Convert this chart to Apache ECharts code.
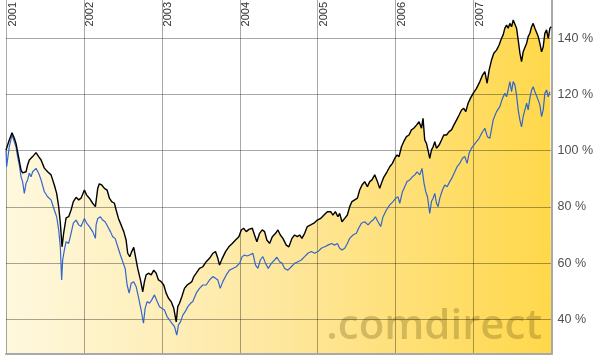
<!DOCTYPE html>
<html><head><meta charset="utf-8">
<script src="https://cdn.jsdelivr.net/npm/echarts@6/dist/echarts.min.js"></script>
<style>html,body{margin:0;padding:0;background:#fff}#c{width:596px;height:361px}</style>
</head><body><div id="c"></div>
<script>
// Year labels shown at the top
const yearTicks = [2001, 2002, 2003, 2004, 2005, 2006, 2007];
// Right-axis tick labels (percent)
const pctTicks = [40, 60, 80, 100, 120, 140];

// Fund (black line), time as decimal years, value in %
const fundT = [
2001.000,2001.021,2001.042,2001.077,2001.107,2001.128,2001.149,2001.171,2001.193,2001.213,
2001.235,2001.257,2001.277,2001.299,2001.321,2001.342,2001.385,2001.419,2001.450,2001.492,
2001.534,2001.578,2001.620,2001.650,2001.676,2001.697,2001.719,2001.740,2001.771,2001.804,
2001.835,2001.864,2001.899,2001.933,2001.963,2002.006,2002.035,2002.070,2002.112,2002.147,
2002.177,2002.198,2002.228,2002.263,2002.297,2002.327,2002.356,2002.391,2002.413,2002.443,
2002.477,2002.511,2002.541,2002.562,2002.588,2002.613,2002.639,2002.670,2002.690,2002.725,
2002.755,2002.776,2002.798,2002.828,2002.863,2002.896,2002.927,2002.956,2002.991,2003.024,
2003.055,2003.085,2003.119,2003.153,2003.184,2003.204,2003.226,2003.256,2003.290,2003.325,
2003.355,2003.384,2003.410,2003.441,2003.483,2003.525,2003.569,2003.611,2003.654,2003.688,
2003.718,2003.740,2003.775,2003.817,2003.859,2003.903,2003.945,2003.988,2004.019,2004.048,
2004.083,2004.116,2004.160,2004.189,2004.219,2004.254,2004.288,2004.318,2004.347,2004.382,
2004.417,2004.459,2004.489,2004.520,2004.553,2004.596,2004.630,2004.669,2004.703,2004.738,
2004.768,2004.797,2004.832,2004.866,2004.909,2004.951,2004.995,2005.037,2005.080,2005.123,
2005.166,2005.195,2005.226,2005.259,2005.281,2005.311,2005.346,2005.380,2005.410,2005.439,
2005.474,2005.509,2005.538,2005.568,2005.602,2005.637,2005.667,2005.696,2005.731,2005.766,
2005.795,2005.825,2005.850,2005.889,2005.924,2005.958,2005.988,2006.017,2006.043,2006.074,
2006.103,2006.138,2006.171,2006.202,2006.232,2006.267,2006.300,2006.331,2006.351,2006.373,
2006.395,2006.415,2006.437,2006.459,2006.480,2006.502,2006.523,2006.557,2006.588,2006.617,
2006.652,2006.685,2006.716,2006.746,2006.780,2006.814,2006.845,2006.874,2006.900,2006.929,
2006.960,2006.994,2007.037,2007.080,2007.114,2007.144,2007.173,2007.199,2007.230,2007.259,
2007.294,2007.327,2007.358,2007.379,2007.401,2007.423,2007.443,2007.465,2007.487,2007.508,
2007.530,2007.551,2007.572,2007.594,2007.615,2007.636,2007.658,2007.680,2007.700,2007.722,
2007.744,2007.764,2007.786,2007.808,2007.829,2007.850,2007.872,2007.893,2007.914,2007.936,
2007.957,2007.979,2007.996];
const fundV = [
100.2,102.0,103.8,106.4,104.4,102.6,99.6,99.2,93.1,92.1,
91.4,92.5,94.9,96.7,97.0,97.9,99.3,97.9,96.7,93.8,
92.5,91.4,87.8,84.8,80.1,74.3,65.8,70.7,76.1,76.5,
78.9,81.9,83.4,82.5,83.1,86.0,84.2,83.1,81.3,80.1,
86.6,88.2,87.8,86.6,86.0,83.1,81.9,81.3,78.9,75.9,
73.6,71.2,68.2,63.5,62.3,64.1,65.6,61.1,58.1,54.0,
49.8,53.4,55.8,56.4,55.8,57.5,56.4,54.0,53.4,52.2,
49.3,47.5,46.3,43.9,39.1,44.5,45.7,48.0,51.0,52.2,
52.8,53.4,55.2,56.4,58.1,58.7,60.5,61.7,63.5,64.1,
61.7,59.3,61.7,64.1,65.8,67.0,68.2,69.4,71.8,72.4,
71.2,72.0,72.4,70.0,67.6,70.6,71.8,71.2,68.2,67.0,
69.4,70.6,71.8,70.0,68.8,66.4,65.8,68.8,70.0,69.4,
70.0,68.8,70.6,73.0,73.6,74.2,75.3,75.9,77.1,78.3,
78.3,77.1,78.3,76.5,77.7,74.7,75.9,77.1,80.1,81.9,
82.5,83.1,86.0,87.8,89.0,87.2,89.0,89.6,91.4,89.0,
86.6,89.0,90.7,92.5,94.3,95.5,97.3,98.5,97.9,101.4,
103.2,105.0,105.6,107.4,108.0,109.1,110.3,108.0,111.5,103.8,
102.6,100.2,97.3,100.2,101.4,103.2,100.9,102.0,103.8,105.6,
105.6,106.8,107.4,109.1,110.9,112.7,114.5,115.1,113.9,116.9,
118.7,120.4,122.2,124.6,126.9,128.1,124.0,128.7,132.3,134.7,
135.8,137.6,140.0,141.2,143.6,144.7,143.6,145.3,144.1,146.5,
147.1,143.6,139.4,134.7,131.7,135.2,134.7,138.2,140.6,141.8,
144.1,145.3,143.6,144.1,140.6,138.2,135.2,137.0,141.8,143.0,
140.0,143.6,144.1];

// Benchmark (blue line)
const benchT = [
2001.000,2001.008,2001.042,2001.077,2001.107,2001.128,2001.149,2001.171,2001.193,2001.213,
2001.235,2001.257,2001.277,2001.299,2001.321,2001.342,2001.385,2001.419,2001.450,2001.492,
2001.534,2001.578,2001.620,2001.650,2001.676,2001.697,2001.714,2001.727,2001.749,2001.771,
2001.804,2001.835,2001.864,2001.899,2001.933,2001.963,2002.006,2002.035,2002.070,2002.112,
2002.147,2002.156,2002.177,2002.211,2002.241,2002.272,2002.305,2002.340,2002.369,2002.400,
2002.434,2002.468,2002.498,2002.529,2002.554,2002.580,2002.606,2002.639,2002.670,2002.699,
2002.734,2002.764,2002.785,2002.811,2002.841,2002.870,2002.905,2002.940,2002.969,2002.999,
2003.033,2003.068,2003.098,2003.127,2003.162,2003.191,2003.213,2003.239,2003.269,2003.299,
2003.333,2003.368,2003.397,2003.441,2003.483,2003.525,2003.569,2003.611,2003.654,2003.688,
2003.718,2003.749,2003.782,2003.826,2003.868,2003.911,2003.954,2003.997,2004.031,2004.061,
2004.091,2004.125,2004.168,2004.202,2004.232,2004.263,2004.296,2004.331,2004.365,2004.404,
2004.446,2004.476,2004.511,2004.545,2004.575,2004.617,2004.661,2004.703,2004.746,2004.789,
2004.832,2004.874,2004.918,2004.960,2005.003,2005.046,2005.089,2005.131,2005.175,2005.217,
2005.252,2005.281,2005.311,2005.346,2005.380,2005.410,2005.452,2005.496,2005.525,2005.560,
2005.602,2005.645,2005.680,2005.709,2005.740,2005.773,2005.808,2005.838,2005.881,2005.924,
2005.966,2006.001,2006.030,2006.052,2006.087,2006.116,2006.146,2006.180,2006.215,2006.245,
2006.274,2006.309,2006.338,2006.364,2006.386,2006.408,2006.437,2006.459,2006.480,2006.502,
2006.523,2006.544,2006.566,2006.600,2006.630,2006.660,2006.694,2006.729,2006.759,2006.788,
2006.823,2006.857,2006.887,2006.917,2006.942,2006.973,2007.003,2007.037,2007.071,2007.105,
2007.144,2007.176,2007.208,2007.251,2007.294,2007.336,2007.371,2007.401,2007.423,2007.443,
2007.465,2007.487,2007.508,2007.530,2007.551,2007.572,2007.594,2007.615,2007.636,2007.658,
2007.680,2007.700,2007.722,2007.744,2007.764,2007.786,2007.808,2007.829,2007.850,2007.872,
2007.893,2007.914,2007.936,2007.957,2007.979];
const benchV = [
100.2,94.3,101.4,105.6,103.2,101.4,97.9,94.9,90.7,89.0,
84.8,88.4,89.6,92.0,90.7,92.5,93.7,92.0,89.6,85.4,
83.6,82.5,78.9,76.5,71.8,65.8,54.0,61.1,64.7,67.6,
67.0,70.6,74.2,75.3,73.6,73.0,75.9,74.2,73.0,71.2,
68.8,73.6,75.9,76.5,75.3,74.7,73.0,71.2,69.4,68.8,
65.8,62.9,60.5,58.1,52.2,49.3,52.8,53.4,51.6,48.0,
43.3,38.6,43.9,46.3,45.7,46.9,48.7,46.3,44.5,43.9,
43.3,40.9,39.8,38.6,37.4,34.4,38.0,39.1,41.5,42.7,
44.5,45.7,46.3,49.3,51.0,52.2,52.2,54.0,55.2,54.6,
54.0,51.0,53.4,55.8,57.5,58.1,58.7,59.9,62.3,62.9,
62.5,62.9,63.5,59.3,58.1,61.1,62.3,59.9,58.1,59.9,
61.1,62.1,60.5,59.9,58.1,57.5,58.7,59.9,60.5,61.1,
62.3,63.5,64.1,63.5,64.1,65.3,65.8,66.4,67.0,66.4,
67.0,65.3,64.7,65.3,67.0,68.8,70.0,70.6,72.4,74.2,
74.7,73.6,74.7,75.3,76.5,74.7,73.0,76.5,78.9,80.7,
81.9,83.1,83.6,81.3,85.4,87.2,89.0,89.6,90.7,91.4,
92.5,91.4,93.7,88.4,85.4,83.6,77.7,81.9,83.1,84.8,
81.3,80.1,83.1,86.0,87.8,87.2,89.0,90.7,92.5,94.3,
95.5,97.3,97.9,95.5,99.1,100.9,102.0,103.2,104.4,106.3,
108.0,105.0,104.4,110.9,113.9,115.7,118.7,120.4,119.2,121.6,
124.6,121.0,124.6,123.4,119.8,114.5,110.9,108.5,112.1,114.5,
116.9,114.5,118.7,121.6,122.8,121.0,121.6,118.0,116.3,112.1,
114.5,120.4,121.6,119.2,121.0];

const fundData = fundT.map((t, i) => [t, fundV[i]]);
const benchData = benchT.map((t, i) => [t, benchV[i]]);

const FONT = '"Liberation Sans", Arial, sans-serif';
const GRIDC = 'rgba(0,0,0,0.34)';
const BORDER = '#a9a9a9';

const chart = echarts.init(document.getElementById('c'), null, {renderer: 'canvas'});
const watermark = {
  type: 'text', right: 54, bottom: 13, z: 2,
  style: {text: '.comdirect', font: '600 42px "Open Sans", sans-serif', fill: 'rgba(80,60,0,0.25)'}
};
chart.setOption({
  animation: false,
  backgroundColor: '#ffffff',
  grid: {left: 6, right: 44, top: 0, bottom: 7, containLabel: false},
  xAxis: {
    type: 'value', min: 2001, max: 2008, interval: 1, position: 'bottom', z: 2,
    axisLine: {show: true, onZero: false, lineStyle: {color: BORDER, width: 2}},
    axisTick: {show: false}, axisLabel: {show: false},
    splitLine: {show: true, showMaxLine: false, lineStyle: {color: GRIDC, width: 1}}
  },
  yAxis: {
    type: 'value', position: 'right', min: 27.65, max: 153.63, splitNumber: 6, z: 2,
    axisLine: {show: true, lineStyle: {color: BORDER, width: 2}},
    axisTick: {show: false},
    axisLabel: {
      margin: 6, color: '#505050', fontSize: 12.5, fontFamily: FONT,
      showMinLabel: false, showMaxLabel: false,
      formatter: v => pctTicks.includes(Math.round(v * 1000) / 1000) ? v + ' %' : ''
    },
    splitLine: {show: true, showMinLine: false, showMaxLine: false, lineStyle: {color: GRIDC, width: 1}}
  },
  series: [{
    type: 'line', data: fundData, z: 1, symbol: 'none', silent: true,
    lineStyle: {opacity: 0, width: 0},
    areaStyle: {
      origin: 'start', opacity: 1,
      color: new echarts.graphic.LinearGradient(0, 0, 1, 0, [
        {offset: 0, color: '#fef8de'},
        {offset: 0.5, color: '#fee79e'},
        {offset: 1, color: '#ffd84a'}
      ])
    }
  }, {
    type: 'line', data: benchData, z: 3, symbol: 'none',
    lineStyle: {color: '#3366cc', width: 1.2}
  }, {
    type: 'line', data: fundData, z: 4, symbol: 'none',
    lineStyle: {color: '#000000', width: 1.4}
  }],
  graphic: [watermark]
});

// Vertical year labels placed at the year grid lines (positions from the x scale)
const yearLabels = yearTicks.map(yr => {
  const px = chart.convertToPixel({xAxisIndex: 0}, yr);
  return {
    type: 'text', x: px + 1, y: 2, rotation: Math.PI / 2, z: 5,
    style: {
      text: String(yr), font: '11px "Liberation Sans", Arial, sans-serif', fill: '#333',
      textAlign: 'right', textVerticalAlign: 'top', align: 'right', verticalAlign: 'top'
    }
  };
});
chart.setOption({graphic: [watermark].concat(yearLabels)});
</script>
</body></html>
